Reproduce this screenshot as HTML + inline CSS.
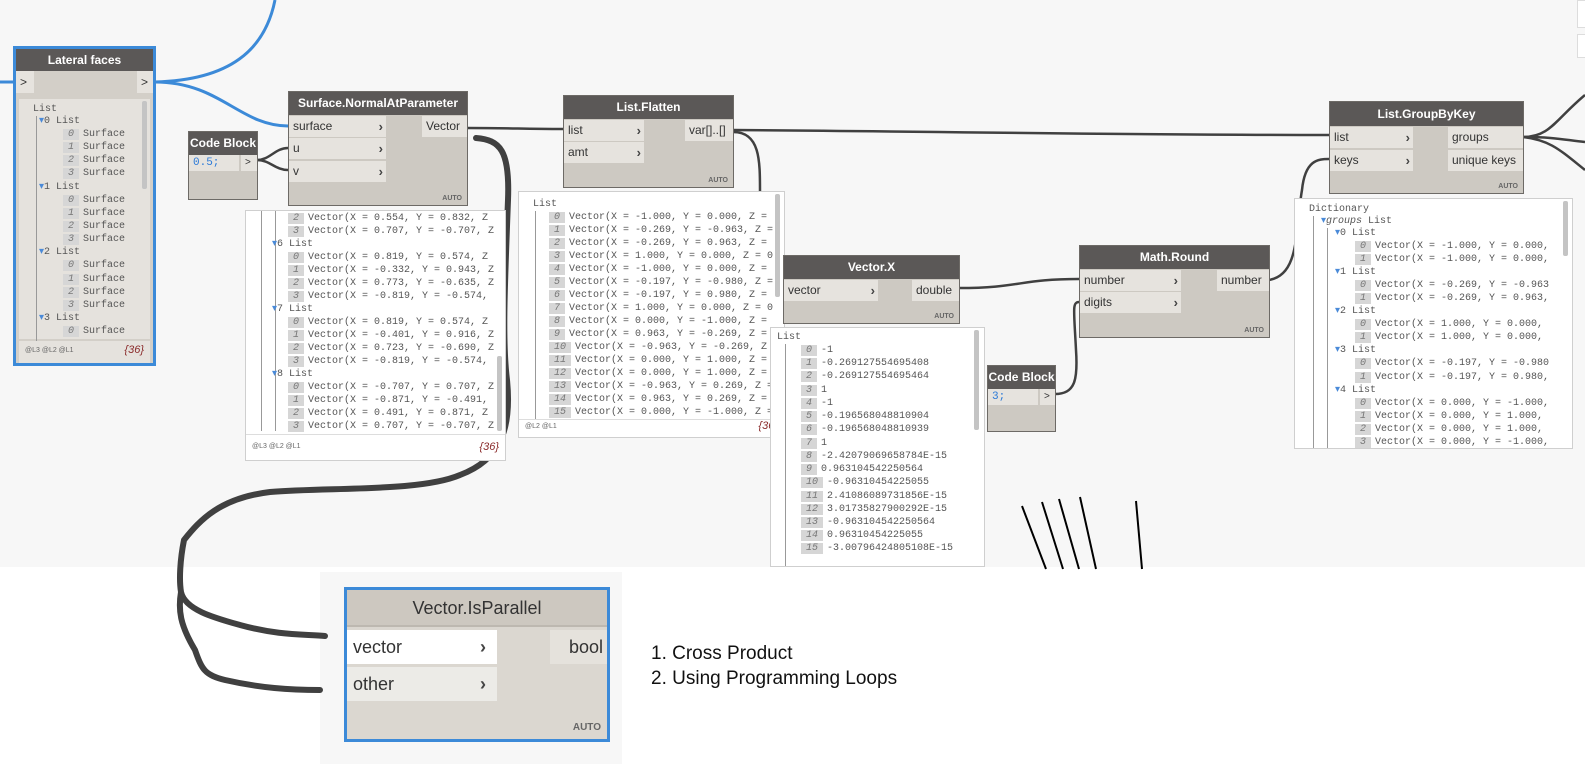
<!DOCTYPE html>
<html><head><meta charset="utf-8">
<style>
*{box-sizing:border-box;margin:0;padding:0}
body{width:1585px;height:764px;background:#fff;position:relative;overflow:hidden;font-family:"Liberation Sans",sans-serif}
.abs{position:absolute}
.node{position:absolute;background:#cdc9c2;border:1px solid #6d6a66}
.hd{position:absolute;left:0;right:0;top:0;background:#5b5857;color:#fff;font-weight:bold;font-size:12px;text-align:center}
.port{position:absolute;background:#e6e3de;font-size:12px;color:#333;padding-left:4px}
.chev{position:absolute;right:3px;top:0;font-weight:bold;color:#444;font-size:13px}
.auto{position:absolute;right:5px;bottom:3px;font-size:7px;font-weight:bold;color:#666}
.pv{position:absolute;background:#fff;border:1px solid #cfcfcf;font-family:"Liberation Mono",monospace;font-size:10px;color:#555;overflow:hidden}
.ln{position:absolute;white-space:pre;height:13px;line-height:13px}
.ix{display:inline-block;background:#d6d6d6;color:#777;font-style:italic;text-align:center;margin-right:4px;height:11px;line-height:11px}
.ft{position:absolute;left:0;right:0;bottom:0;font-size:7px;color:#666;font-family:"Liberation Sans",sans-serif;padding:3px 6px;border-top:1px solid #ddd}
.ft b{position:absolute;right:6px;top:0;font-weight:normal;font-style:italic;color:#8a2a2a;font-size:11px}
.vl{position:absolute;border-left:1px solid #999}
.sb{position:absolute;width:5px;background:#c4c4c4;border-radius:2px}
</style></head><body>
<div class="abs" style="left:0;top:0;width:1585px;height:567px;background:#f7f7f7"></div>
<div class="abs" style="left:320px;top:572px;width:302px;height:192px;background:#f7f7f7"></div>

<!-- top-right buttons -->
<div class="abs" style="left:1577px;top:0;width:10px;height:28px;background:#fff;border:1px solid #ddd"></div>
<div class="abs" style="left:1577px;top:34px;width:10px;height:24px;background:#fff;border:1px solid #ddd"></div>

<svg class="abs" style="left:0;top:0" width="1585" height="764">
<g fill="none" stroke="#3c8ad8" stroke-width="3">
<path d="M0,82 L13,82"/>
<path d="M155,82 C230,80 265,50 275,0"/>
<path d="M155,82 C220,82 240,126 288,126"/>
</g>
<g fill="none" stroke="#404040" stroke-width="2.5">
<path d="M467,128 C515,128 520,129 563,129"/>
<path d="M733,130 C1000,132 1100,135 1329,135"/>
<path d="M733,132 C760,132 760,160 760,192"/>
<path d="M959,288 C1020,288 1020,279 1079,279"/>
<path d="M1269,280 C1300,275 1295,230 1302,190 C1305,160 1318,159 1329,159"/>
<path d="M1055,394 C1075,394 1078,380 1076,350 C1074,310 1072,302 1079,302"/>
<path d="M257,160 C270,160 275,148 288,148"/>
<path d="M257,160 C270,160 275,170 288,170"/>
<path d="M1523,137 C1550,137 1555,120 1585,95"/>
<path d="M1523,137 C1555,137 1565,140 1585,142"/>
<path d="M1523,137 C1550,140 1560,150 1585,170"/>
</g>
<path d="M476,138 C500,140 510,150 508,200 C505,280 502,340 507,380 C512,430 500,460 460,475 C420,492 330,487 270,492 C220,498 200,520 184,540 C180,560 179,580 181,592 C185,610 215,618 240,625 C280,636 305,634 325,636 M181,592 C178,610 180,625 195,650 C202,670 205,675 225,680 C260,688 290,690 320,690" fill="none" stroke="#404040" stroke-width="6" stroke-linecap="round" stroke-linejoin="round"/>
<g stroke="#000" stroke-width="2">
<line x1="1022" y1="506" x2="1046" y2="569"/>
<line x1="1042" y1="502" x2="1063" y2="569"/>
<line x1="1059" y1="499" x2="1079" y2="569"/>
<line x1="1080" y1="497" x2="1096" y2="569"/>
<line x1="1136" y1="501" x2="1142" y2="569"/>
</g>
</svg>

<!-- Lateral faces -->
<div class="node" style="left:13px;top:46px;width:143px;height:320px;border:3px solid #3c8ad8;background:#d3cfc8">
 <div class="hd" style="height:22px;line-height:22px">Lateral faces</div>
 <div class="port" style="left:0;top:22px;width:18px;height:22px;line-height:22px">&gt;</div>
 <div class="port" style="right:0;top:22px;width:16px;height:22px;line-height:22px">&gt;</div>
 <div class="abs" style="left:3px;top:50px;width:131px;height:240px;background:#e5e2dd;font-family:'Liberation Mono',monospace;font-size:10px;color:#555">
  <div class="ln" style="left:14px;top:4px">List</div>
  <div class="vl" style="left:17px;top:17px;height:225px"></div>
  <div class="ln" style="left:20px;top:16px"><span style="color:#4a8ad8">▾</span>0 List</div>
  <div class="ln" style="left:44px;top:29px"><span class="ix" style="width:16px">0</span>Surface</div>
  <div class="ln" style="left:44px;top:42px"><span class="ix" style="width:16px">1</span>Surface</div>
  <div class="ln" style="left:44px;top:55px"><span class="ix" style="width:16px">2</span>Surface</div>
  <div class="ln" style="left:44px;top:68px"><span class="ix" style="width:16px">3</span>Surface</div>
  <div class="ln" style="left:20px;top:82px"><span style="color:#4a8ad8">▾</span>1 List</div>
  <div class="ln" style="left:44px;top:95px"><span class="ix" style="width:16px">0</span>Surface</div>
  <div class="ln" style="left:44px;top:108px"><span class="ix" style="width:16px">1</span>Surface</div>
  <div class="ln" style="left:44px;top:121px"><span class="ix" style="width:16px">2</span>Surface</div>
  <div class="ln" style="left:44px;top:134px"><span class="ix" style="width:16px">3</span>Surface</div>
  <div class="ln" style="left:20px;top:147px"><span style="color:#4a8ad8">▾</span>2 List</div>
  <div class="ln" style="left:44px;top:160px"><span class="ix" style="width:16px">0</span>Surface</div>
  <div class="ln" style="left:44px;top:174px"><span class="ix" style="width:16px">1</span>Surface</div>
  <div class="ln" style="left:44px;top:187px"><span class="ix" style="width:16px">2</span>Surface</div>
  <div class="ln" style="left:44px;top:200px"><span class="ix" style="width:16px">3</span>Surface</div>
  <div class="ln" style="left:20px;top:213px"><span style="color:#4a8ad8">▾</span>3 List</div>
  <div class="ln" style="left:44px;top:226px"><span class="ix" style="width:16px">0</span>Surface</div>
  <div class="sb" style="left:123px;top:2px;height:88px"></div>
 </div>
 <div class="abs" style="left:3px;top:292px;width:131px;height:22px;background:#e5e2dd;font-size:7px;color:#666;padding:6px 6px">@L3 @L2 @L1<span style="position:absolute;right:6px;top:3px;font-size:11px;font-style:italic;color:#8a2a2a">{36}</span></div>
</div>

<!-- Code Block 0.5 -->
<div class="node" style="left:188px;top:131px;width:70px;height:69px">
 <div class="hd" style="height:23px;line-height:23px">Code Block</div>
 <div class="port" style="left:0;top:23px;width:50px;height:16px;line-height:16px;font-family:'Liberation Mono',monospace;color:#2b7ad8;font-size:11px">0.5;</div>
 <div class="port" style="left:52px;top:23px;width:16px;height:16px;line-height:16px;font-size:10px">&gt;</div>
</div>

<!-- Surface.NormalAtParameter -->
<div class="node" style="left:288px;top:91px;width:180px;height:115px">
 <div class="hd" style="height:23px;line-height:23px">Surface.NormalAtParameter</div>
 <div class="port" style="left:0;top:24px;width:97px;height:21px;line-height:21px">surface<span class="chev">›</span></div>
 <div class="port" style="left:0;top:46px;width:97px;height:21px;line-height:21px">u<span class="chev">›</span></div>
 <div class="port" style="left:0;top:69px;width:97px;height:21px;line-height:21px">v<span class="chev">›</span></div>
 <div class="port" style="right:0;top:24px;width:45px;height:21px;line-height:21px">Vector</div>
 <div class="auto">AUTO</div>
</div>
<div class="pv" style="left:245px;top:210px;width:261px;height:251px">
 <div class="vl" style="left:15px;top:0;height:220px"></div>
 <div class="vl" style="left:29px;top:0;height:220px"></div>
 <div class="ln" style="left:42px;top:1px"><span class="ix" style="width:16px">2</span>Vector(X = 0.554, Y = 0.832, Z</div>
 <div class="ln" style="left:42px;top:14px"><span class="ix" style="width:16px">3</span>Vector(X = 0.707, Y = -0.707, Z</div>
 <div class="ln" style="left:26px;top:27px"><span style="color:#4a8ad8">▾</span>6 List</div>
 <div class="ln" style="left:42px;top:40px"><span class="ix" style="width:16px">0</span>Vector(X = 0.819, Y = 0.574, Z</div>
 <div class="ln" style="left:42px;top:53px"><span class="ix" style="width:16px">1</span>Vector(X = -0.332, Y = 0.943, Z</div>
 <div class="ln" style="left:42px;top:66px"><span class="ix" style="width:16px">2</span>Vector(X = 0.773, Y = -0.635, Z</div>
 <div class="ln" style="left:42px;top:79px"><span class="ix" style="width:16px">3</span>Vector(X = -0.819, Y = -0.574,</div>
 <div class="ln" style="left:26px;top:92px"><span style="color:#4a8ad8">▾</span>7 List</div>
 <div class="ln" style="left:42px;top:105px"><span class="ix" style="width:16px">0</span>Vector(X = 0.819, Y = 0.574, Z</div>
 <div class="ln" style="left:42px;top:118px"><span class="ix" style="width:16px">1</span>Vector(X = -0.401, Y = 0.916, Z</div>
 <div class="ln" style="left:42px;top:131px"><span class="ix" style="width:16px">2</span>Vector(X = 0.723, Y = -0.690, Z</div>
 <div class="ln" style="left:42px;top:144px"><span class="ix" style="width:16px">3</span>Vector(X = -0.819, Y = -0.574,</div>
 <div class="ln" style="left:26px;top:157px"><span style="color:#4a8ad8">▾</span>8 List</div>
 <div class="ln" style="left:42px;top:170px"><span class="ix" style="width:16px">0</span>Vector(X = -0.707, Y = 0.707, Z</div>
 <div class="ln" style="left:42px;top:183px"><span class="ix" style="width:16px">1</span>Vector(X = -0.871, Y = -0.491,</div>
 <div class="ln" style="left:42px;top:196px"><span class="ix" style="width:16px">2</span>Vector(X = 0.491, Y = 0.871, Z</div>
 <div class="ln" style="left:42px;top:209px"><span class="ix" style="width:16px">3</span>Vector(X = 0.707, Y = -0.707, Z</div>
 <div class="sb" style="left:251px;top:145px;height:75px"></div>
 <div class="ft" style="height:26px;padding-top:8px">@L3 @L2 @L1<b style="top:6px">{36}</b></div>
</div>

<!-- List.Flatten -->
<div class="node" style="left:563px;top:95px;width:171px;height:93px">
 <div class="hd" style="height:23px;line-height:23px">List.Flatten</div>
 <div class="port" style="left:0;top:24px;width:80px;height:21px;line-height:21px">list<span class="chev">›</span></div>
 <div class="port" style="left:0;top:46px;width:80px;height:21px;line-height:21px">amt<span class="chev">›</span></div>
 <div class="port" style="right:0;top:24px;width:48px;height:21px;line-height:21px">var[]..[]</div>
 <div class="auto">AUTO</div>
</div>
<div class="pv" style="left:518px;top:191px;width:267px;height:247px">
 <div class="ln" style="left:14px;top:6px">List</div>
 <div class="vl" style="left:16px;top:19px;height:210px"></div>
 <div class="ln" style="left:30px;top:19px"><span class="ix" style="width:16px">0</span>Vector(X = -1.000, Y = 0.000, Z =</div>
 <div class="ln" style="left:30px;top:32px"><span class="ix" style="width:16px">1</span>Vector(X = -0.269, Y = -0.963, Z =</div>
 <div class="ln" style="left:30px;top:45px"><span class="ix" style="width:16px">2</span>Vector(X = -0.269, Y = 0.963, Z =</div>
 <div class="ln" style="left:30px;top:58px"><span class="ix" style="width:16px">3</span>Vector(X = 1.000, Y = 0.000, Z = 0</div>
 <div class="ln" style="left:30px;top:71px"><span class="ix" style="width:16px">4</span>Vector(X = -1.000, Y = 0.000, Z =</div>
 <div class="ln" style="left:30px;top:84px"><span class="ix" style="width:16px">5</span>Vector(X = -0.197, Y = -0.980, Z =</div>
 <div class="ln" style="left:30px;top:97px"><span class="ix" style="width:16px">6</span>Vector(X = -0.197, Y = 0.980, Z =</div>
 <div class="ln" style="left:30px;top:110px"><span class="ix" style="width:16px">7</span>Vector(X = 1.000, Y = 0.000, Z = 0</div>
 <div class="ln" style="left:30px;top:123px"><span class="ix" style="width:16px">8</span>Vector(X = 0.000, Y = -1.000, Z =</div>
 <div class="ln" style="left:30px;top:136px"><span class="ix" style="width:16px">9</span>Vector(X = 0.963, Y = -0.269, Z =</div>
 <div class="ln" style="left:30px;top:149px"><span class="ix" style="width:22px">10</span>Vector(X = -0.963, Y = -0.269, Z</div>
 <div class="ln" style="left:30px;top:162px"><span class="ix" style="width:22px">11</span>Vector(X = 0.000, Y = 1.000, Z =</div>
 <div class="ln" style="left:30px;top:175px"><span class="ix" style="width:22px">12</span>Vector(X = 0.000, Y = 1.000, Z =</div>
 <div class="ln" style="left:30px;top:188px"><span class="ix" style="width:22px">13</span>Vector(X = -0.963, Y = 0.269, Z =</div>
 <div class="ln" style="left:30px;top:201px"><span class="ix" style="width:22px">14</span>Vector(X = 0.963, Y = 0.269, Z =</div>
 <div class="ln" style="left:30px;top:214px"><span class="ix" style="width:22px">15</span>Vector(X = 0.000, Y = -1.000, Z =</div>
 <div class="sb" style="left:256px;top:2px;height:103px"></div>
 <div class="ft" style="height:18px;background:#fff">@L2 @L1<b>{36}</b></div>
</div>

<!-- Vector.X -->
<div class="node" style="left:783px;top:255px;width:177px;height:69px">
 <div class="hd" style="height:23px;line-height:23px">Vector.X</div>
 <div class="port" style="left:0;top:24px;width:94px;height:21px;line-height:21px">vector<span class="chev">›</span></div>
 <div class="port" style="right:0;top:24px;width:47px;height:21px;line-height:21px">double</div>
 <div class="auto">AUTO</div>
</div>
<div class="pv" style="left:770px;top:327px;width:215px;height:240px">
 <div class="ln" style="left:6px;top:3px">List</div>
 <div class="vl" style="left:14px;top:16px;height:225px"></div>
 <div class="ln" style="left:30px;top:16px"><span class="ix" style="width:16px">0</span>-1</div>
 <div class="ln" style="left:30px;top:29px"><span class="ix" style="width:16px">1</span>-0.269127554695408</div>
 <div class="ln" style="left:30px;top:42px"><span class="ix" style="width:16px">2</span>-0.269127554695464</div>
 <div class="ln" style="left:30px;top:56px"><span class="ix" style="width:16px">3</span>1</div>
 <div class="ln" style="left:30px;top:69px"><span class="ix" style="width:16px">4</span>-1</div>
 <div class="ln" style="left:30px;top:82px"><span class="ix" style="width:16px">5</span>-0.196568048810904</div>
 <div class="ln" style="left:30px;top:95px"><span class="ix" style="width:16px">6</span>-0.196568048810939</div>
 <div class="ln" style="left:30px;top:109px"><span class="ix" style="width:16px">7</span>1</div>
 <div class="ln" style="left:30px;top:122px"><span class="ix" style="width:16px">8</span>-2.42079069658784E-15</div>
 <div class="ln" style="left:30px;top:135px"><span class="ix" style="width:16px">9</span>0.963104542250564</div>
 <div class="ln" style="left:30px;top:148px"><span class="ix" style="width:22px">10</span>-0.96310454225055</div>
 <div class="ln" style="left:30px;top:162px"><span class="ix" style="width:22px">11</span>2.41086089731856E-15</div>
 <div class="ln" style="left:30px;top:175px"><span class="ix" style="width:22px">12</span>3.01735827900292E-15</div>
 <div class="ln" style="left:30px;top:188px"><span class="ix" style="width:22px">13</span>-0.963104542250564</div>
 <div class="ln" style="left:30px;top:201px"><span class="ix" style="width:22px">14</span>0.96310454225055</div>
 <div class="ln" style="left:30px;top:214px"><span class="ix" style="width:22px">15</span>-3.00796424805108E-15</div>
 <div class="sb" style="left:203px;top:2px;height:100px"></div>
</div>

<!-- Math.Round -->
<div class="node" style="left:1079px;top:245px;width:191px;height:93px">
 <div class="hd" style="height:23px;line-height:23px">Math.Round</div>
 <div class="port" style="left:0;top:24px;width:101px;height:21px;line-height:21px">number<span class="chev">›</span></div>
 <div class="port" style="left:0;top:46px;width:101px;height:21px;line-height:21px">digits<span class="chev">›</span></div>
 <div class="port" style="right:0;top:24px;width:52px;height:21px;line-height:21px">number</div>
 <div class="auto">AUTO</div>
</div>

<!-- Code Block 3 -->
<div class="node" style="left:987px;top:365px;width:69px;height:67px">
 <div class="hd" style="height:23px;line-height:23px">Code Block</div>
 <div class="port" style="left:0;top:23px;width:50px;height:16px;line-height:16px;font-family:'Liberation Mono',monospace;color:#2b7ad8;font-size:11px">3;</div>
 <div class="port" style="left:52px;top:23px;width:15px;height:16px;line-height:16px;font-size:10px">&gt;</div>
</div>

<!-- List.GroupByKey -->
<div class="node" style="left:1329px;top:101px;width:195px;height:93px">
 <div class="hd" style="height:24px;line-height:24px">List.GroupByKey</div>
 <div class="port" style="left:0;top:25px;width:83px;height:21px;line-height:21px">list<span class="chev">›</span></div>
 <div class="port" style="left:0;top:48px;width:83px;height:21px;line-height:21px">keys<span class="chev">›</span></div>
 <div class="port" style="right:0;top:25px;width:75px;height:21px;line-height:21px">groups</div>
 <div class="port" style="right:0;top:48px;width:75px;height:21px;line-height:21px">unique keys</div>
 <div class="auto">AUTO</div>
</div>
<div class="pv" style="left:1294px;top:198px;width:279px;height:251px">
 <div class="ln" style="left:14px;top:4px">Dictionary</div>
 <div class="vl" style="left:18px;top:17px;height:240px"></div>
 <div class="vl" style="left:32px;top:29px;height:230px"></div>
 <div class="ln" style="left:26px;top:16px"><span style="color:#4a8ad8">▾</span><i>groups</i> List</div>
 <div class="ln" style="left:40px;top:28px"><span style="color:#4a8ad8">▾</span>0 List</div>
 <div class="ln" style="left:60px;top:41px"><span class="ix" style="width:16px">0</span>Vector(X = -1.000, Y = 0.000,</div>
 <div class="ln" style="left:60px;top:54px"><span class="ix" style="width:16px">1</span>Vector(X = -1.000, Y = 0.000,</div>
 <div class="ln" style="left:40px;top:67px"><span style="color:#4a8ad8">▾</span>1 List</div>
 <div class="ln" style="left:60px;top:80px"><span class="ix" style="width:16px">0</span>Vector(X = -0.269, Y = -0.963</div>
 <div class="ln" style="left:60px;top:93px"><span class="ix" style="width:16px">1</span>Vector(X = -0.269, Y = 0.963,</div>
 <div class="ln" style="left:40px;top:106px"><span style="color:#4a8ad8">▾</span>2 List</div>
 <div class="ln" style="left:60px;top:119px"><span class="ix" style="width:16px">0</span>Vector(X = 1.000, Y = 0.000,</div>
 <div class="ln" style="left:60px;top:132px"><span class="ix" style="width:16px">1</span>Vector(X = 1.000, Y = 0.000,</div>
 <div class="ln" style="left:40px;top:145px"><span style="color:#4a8ad8">▾</span>3 List</div>
 <div class="ln" style="left:60px;top:158px"><span class="ix" style="width:16px">0</span>Vector(X = -0.197, Y = -0.980</div>
 <div class="ln" style="left:60px;top:172px"><span class="ix" style="width:16px">1</span>Vector(X = -0.197, Y = 0.980,</div>
 <div class="ln" style="left:40px;top:185px"><span style="color:#4a8ad8">▾</span>4 List</div>
 <div class="ln" style="left:60px;top:198px"><span class="ix" style="width:16px">0</span>Vector(X = 0.000, Y = -1.000,</div>
 <div class="ln" style="left:60px;top:211px"><span class="ix" style="width:16px">1</span>Vector(X = 0.000, Y = 1.000,</div>
 <div class="ln" style="left:60px;top:224px"><span class="ix" style="width:16px">2</span>Vector(X = 0.000, Y = 1.000,</div>
 <div class="ln" style="left:60px;top:237px"><span class="ix" style="width:16px">3</span>Vector(X = 0.000, Y = -1.000,</div>
 <div class="sb" style="left:268px;top:2px;height:55px"></div>
</div>

<!-- Vector.IsParallel -->
<div class="abs" style="left:344px;top:587px;width:266px;height:155px;border:3px solid #3c8ad8;background:#dbd7d0">
 <div class="abs" style="left:0;top:0;width:260px;height:37px;background:#cdc8c0;border-bottom:2px solid #bdb8b0;text-align:center;font-size:18px;line-height:37px;color:#333">Vector.IsParallel</div>
 <div class="abs" style="left:0;top:40px;width:150px;height:34px;background:#fff;font-size:18px;line-height:34px;padding-left:6px;color:#333">vector<span style="position:absolute;left:133px;font-weight:bold;color:#444">›</span></div>
 <div class="abs" style="left:0;top:77px;width:150px;height:34px;background:#ecebe7;font-size:18px;line-height:34px;padding-left:6px;color:#333">other<span style="position:absolute;left:133px;font-weight:bold;color:#444">›</span></div>
 <div class="abs" style="left:203px;top:40px;width:57px;height:34px;background:#e5e2dc;font-size:18px;line-height:34px;text-align:right;padding-right:4px;color:#333">bool</div>
 <div class="abs" style="right:6px;bottom:6px;font-size:10px;font-weight:bold;color:#666">AUTO</div>
</div>

<div class="abs" style="left:651px;top:641px;font-size:19px;color:#111;line-height:25px">1. Cross Product<br>2. Using Programming Loops</div>
</body></html>
